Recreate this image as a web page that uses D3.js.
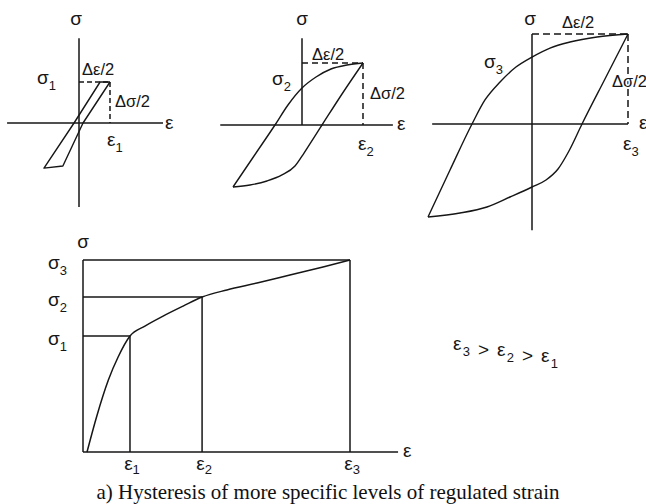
<!DOCTYPE html>
<html>
<head>
<meta charset="utf-8">
<script src="https://cdn.jsdelivr.net/npm/d3@7"></script>
<style>
  body { margin: 0; background: #fff; }
  svg { display: block; }
</style>
</head>
<body>
<svg id="chart" width="646" height="504"></svg>
<script>
// ---- Data -------------------------------------------------------------
// Hysteresis loops, strain and stress scaled so the loop tip sits at (1, 1).
// Each branch runs from the compressive tip to the tensile tip.
const loop1 = [[1, 1], [0.13, 0], [-0.52, -1.05], [-1.13, -1.10], [-0.16, 0], [0.68, 1], [1, 1]];

const loop2Upper = [[-1.131, -1.0], [-0.787, -0.5], [-0.443, 0], [-0.230, 0.323], [0, 0.597],
                    [0.230, 0.774], [0.475, 0.903], [0.738, 0.968], [1, 1]];
const loop2Lower = [[-1.131, -1.0], [-0.852, -0.968], [-0.574, -0.903], [-0.328, -0.806], [-0.115, -0.661],
                    [0.033, -0.452], [0.180, -0.226], [0.328, 0], [0.656, 0.5], [1, 1]];

const loop3Upper = [[-1.083, -1.033], [-0.854, -0.511], [-0.625, 0], [-0.490, 0.267], [-0.333, 0.467],
                    [-0.167, 0.633], [0, 0.744], [0.1875, 0.844], [0.396, 0.911], [0.677, 0.967], [1, 1]];
const loop3Lower = [[-1.083, -1.033], [-0.75, -0.989], [-0.469, -0.922], [-0.229, -0.811], [0, -0.7],
                    [0.146, -0.622], [0.271, -0.5], [0.385, -0.3], [0.521, 0], [0.76, 0.5], [1, 1]];

// Cyclic stress-strain curve, both as fractions of level 3.
const curveStrain = [0.015, 0.051, 0.095, 0.132, 0.176, 0.232, 0.300, 0.375, 0.446, 0.539, 0.652, 0.775, 0.899, 1.0];
const curveStress = [0, 0.184, 0.375, 0.496, 0.604, 0.656, 0.708, 0.760, 0.807, 0.844, 0.880, 0.922, 0.964, 1.0];

const strainLevels = [0.176, 0.446, 1.0];
const stressLevels = [0.604, 0.807, 1.0];
const levelNames = ["1", "2", "3"];

const captionText = "a) Hysteresis of more specific levels of regulated strain";

// ---- Drawing ----------------------------------------------------------
const svg = d3.select("#chart");
const ink = "#161616";
const sans = "'Liberation Sans', Arial, Helvetica, sans-serif";

function symbol(g, x, y, main, sub, size, anchor, subShift) {
  const t = g.append("text")
    .attr("x", x).attr("y", y)
    .attr("font-family", sans)
    .attr("font-size", size)
    .attr("fill", ink)
    .attr("text-anchor", anchor || "start");
  t.append("tspan").text(main);
  if (sub) {
    t.append("tspan")
      .attr("font-size", Math.round(size * 0.68))
      .attr("dy", subShift != null ? subShift : size * 0.3)
      .text(sub);
  }
  return t;
}

function seg(g, x1, y1, x2, y2, dashed, w) {
  g.append("line")
    .attr("x1", x1).attr("y1", y1).attr("x2", x2).attr("y2", y2)
    .attr("stroke", ink)
    .attr("stroke-width", w || 1.5)
    .attr("stroke-dasharray", dashed ? dashed : null);
}

// Layout of the three small hysteresis panels
const panels = [
  {
    ox: 79, oy: 123, ux: 31, uy: 41,
    hAxis: [-2.32, 2.71], vAxis: [-2.05, 2.07], dash: "5,3",
    branches: [loop1], curve: d3.curveLinear, idx: 0,
    sigma: [76, 25], eps: [165, 129],
    sigmaN: [37, 84], epsN: [107, 146],
    dEps: [82, 75], dSig: [115, 107]
  },
  {
    ox: 302, oy: 125, ux: 61, uy: 62,
    hAxis: [-1.34, 1.49], vAxis: [0, 1.4], dash: "6,4",
    branches: [loop2Upper, loop2Lower], curve: d3.curveMonotoneX, idx: 1,
    sigma: [302, 25], eps: [397, 130],
    sigmaN: [272, 85], epsN: [358, 150],
    dEps: [312, 60], dSig: [370, 99]
  },
  {
    ox: 532, oy: 124, ux: 96, uy: 90,
    hAxis: [-1.04, 1.0], vAxis: [-1.18, 1.0], dash: "7,4",
    branches: [loop3Upper, loop3Lower], curve: d3.curveMonotoneX, idx: 2,
    sigma: [530, 25], eps: [639, 129],
    sigmaN: [484, 68], epsN: [623, 150],
    dEps: [562, 28], dSig: [612, 87], halo: true
  }
];

panels.forEach(p => {
  const g = svg.append("g");
  const x = d3.scaleLinear().domain([0, 1]).range([p.ox, p.ox + p.ux]);
  const y = d3.scaleLinear().domain([0, 1]).range([p.oy, p.oy - p.uy]);

  // axes through the origin
  seg(g, x(p.hAxis[0]), y(0), x(p.hAxis[1]), y(0));
  seg(g, x(0), y(p.vAxis[0]), x(0), y(p.vAxis[1]));

  // half-range guides to the loop tip
  seg(g, x(0), y(1), x(1), y(1), p.dash);
  seg(g, x(1), y(1), x(1), y(0), p.dash);

  const line = d3.line().x(d => x(d[0])).y(d => y(d[1])).curve(p.curve);
  p.branches.forEach(b => {
    g.append("path")
      .attr("d", line(b))
      .attr("fill", "none")
      .attr("stroke", ink)
      .attr("stroke-width", 1.4)
      .attr("stroke-linejoin", "round");
  });

  const n = levelNames[p.idx];
  symbol(g, p.sigma[0], p.sigma[1], "σ", null, 19, "middle");
  symbol(g, p.eps[0], p.eps[1], "ε", null, 19);
  symbol(g, p.sigmaN[0], p.sigmaN[1], "σ", n, 19);
  symbol(g, p.epsN[0], p.epsN[1], "ε", n, 19);
  symbol(g, p.dEps[0], p.dEps[1], "Δε/2", null, 16.5);
  const ds = symbol(g, p.dSig[0], p.dSig[1], "Δσ/2", null, 16.5);
  if (p.halo) {
    ds.attr("stroke", "#fff").attr("stroke-width", 3).attr("paint-order", "stroke");
  }
});

// ---- Cyclic stress-strain curve ----------------------------------------
{
  const g = svg.append("g");
  const x = d3.scaleLinear().domain([0, 1]).range([83, 350]);
  const y = d3.scaleLinear().domain([0, 1]).range([452, 260]);

  seg(g, x(0), y(0), x(1.18), y(0));
  seg(g, x(0), y(0), x(0), y(1));

  strainLevels.forEach((e, i) => {
    const s = stressLevels[i];
    seg(g, x(0), y(s), x(e), y(s));
    seg(g, x(e), y(s), x(e), y(0));
    symbol(g, x(e) + 2, 470, "ε", levelNames[i], 19, "middle", 4);
    symbol(g, 48, y(s) + 9, "σ", levelNames[i], 19);
  });

  const pts = d3.zip(curveStrain, curveStress);
  g.append("path")
    .attr("d", d3.line().x(d => x(d[0])).y(d => y(d[1])).curve(d3.curveMonotoneX)(pts))
    .attr("fill", "none")
    .attr("stroke", ink)
    .attr("stroke-width", 1.5);

  symbol(g, 83, 248, "σ", null, 19, "middle");
  symbol(g, 403, 457, "ε", null, 19);

  // ordering of the strain levels
  const t = g.append("text")
    .attr("x", 453).attr("y", 350)
    .attr("font-family", sans).attr("font-size", 19).attr("fill", ink)
    .attr("textLength", 105).attr("lengthAdjust", "spacing");
  [["ε", "3"], [" > ε", "2"], [" > ε", "1"]].forEach(([m, s]) => {
    t.append("tspan").text(m);
    t.append("tspan").attr("font-size", 13).attr("dy", 6).text(s);
    t.append("tspan").attr("dy", -6).text("");
  });
}

// ---- Caption ----------------------------------------------------------
svg.append("text")
  .attr("x", 328).attr("y", 499)
  .attr("text-anchor", "middle")
  .attr("font-family", "'Liberation Serif', 'Times New Roman', serif")
  .attr("font-size", 21)
  .attr("fill", "#111")
  .text(captionText);
</script>
</body>
</html>
